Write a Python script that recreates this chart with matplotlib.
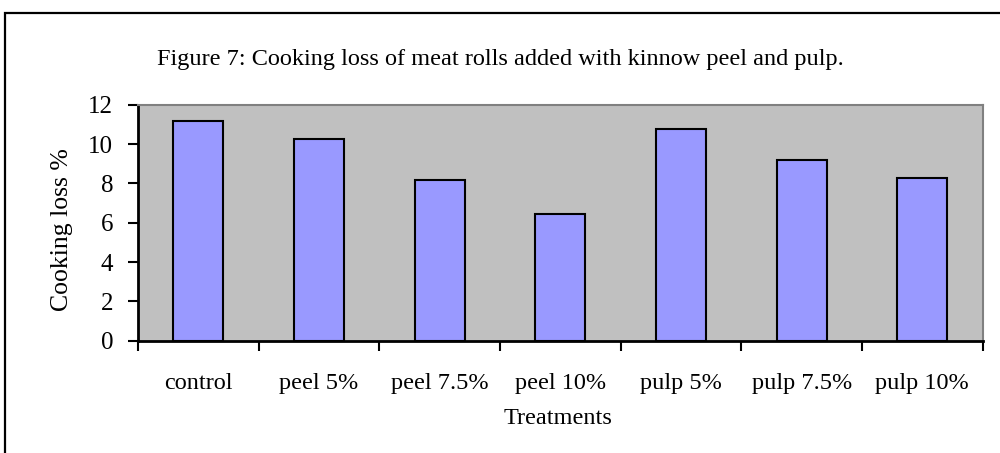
import matplotlib
matplotlib.use("Agg")
import matplotlib.pyplot as plt
from matplotlib.patches import Rectangle

categories = ["control", "peel 5%", "peel 7.5%", "peel 10%", "pulp 5%", "pulp 7.5%", "pulp 10%"]
cooking_loss = [11.15, 10.27, 8.17, 6.43, 10.78, 9.17, 8.29]
y_ticks = [0, 2, 4, 6, 8, 10, 12]

plt.rcParams['font.family'] = ['Liberation Serif', 'DejaVu Serif']

W, H = 1000, 453
fig = plt.figure(figsize=(W/100, H/100), dpi=100)
FS = 17.5

# outer border of chart area
fig.patches.append(Rectangle((5/W, -0.05), 1.2, (H-13)/H + 0.05, transform=fig.transFigure,
                             fill=False, edgecolor='black', linewidth=1.6))

left, right, top, bottom = 138, 982.7, 104.7, 340.7
ax = fig.add_axes([left/W, 1-bottom/H, (right-left)/W, (bottom-top)/H])
ax.set_facecolor('#C0C0C0')

x = list(range(len(categories)))
ax.bar(x, cooking_loss, width=0.415, color='#9999FF', edgecolor='black', linewidth=1.5, zorder=3)

ax.set_xlim(-0.5, len(categories)-0.5)
ax.set_ylim(0, 12)
ax.set_yticks(y_ticks)
ax.set_yticklabels([str(v) for v in y_ticks], fontsize=18)

# category labels between ticks
ax.set_xticks([i + 0.5 for i in range(-1, len(categories))])
ax.set_xticklabels([])
ax.set_xticks(x, minor=True)
ax.set_xticklabels(categories, minor=True, fontsize=FS)
ax.tick_params(axis='x', which='minor', length=0, pad=23)
ax.tick_params(axis='x', which='major', length=7, width=1.5, direction='out')
ax.tick_params(axis='y', length=7, width=1.5, direction='out', pad=11)

for s in ['top', 'right']:
    ax.spines[s].set_color('#808080')
    ax.spines[s].set_linewidth(1.5)
for s in ['left', 'bottom']:
    ax.spines[s].set_color('black')
    ax.spines[s].set_linewidth(2)

fig.text(62/W, 1-230/H, "Cooking loss %", rotation=90, ha='center', va='center', fontsize=18.5)
fig.text(558/W, 1-418/H, "Treatments", ha='center', va='center', fontsize=FS)

fig.text(500/W, 1-60/H, "Figure 7: Cooking loss of meat rolls added with kinnow peel and pulp.",
         ha='center', va='center', fontsize=FS)

fig.savefig("out.png", dpi=100)
